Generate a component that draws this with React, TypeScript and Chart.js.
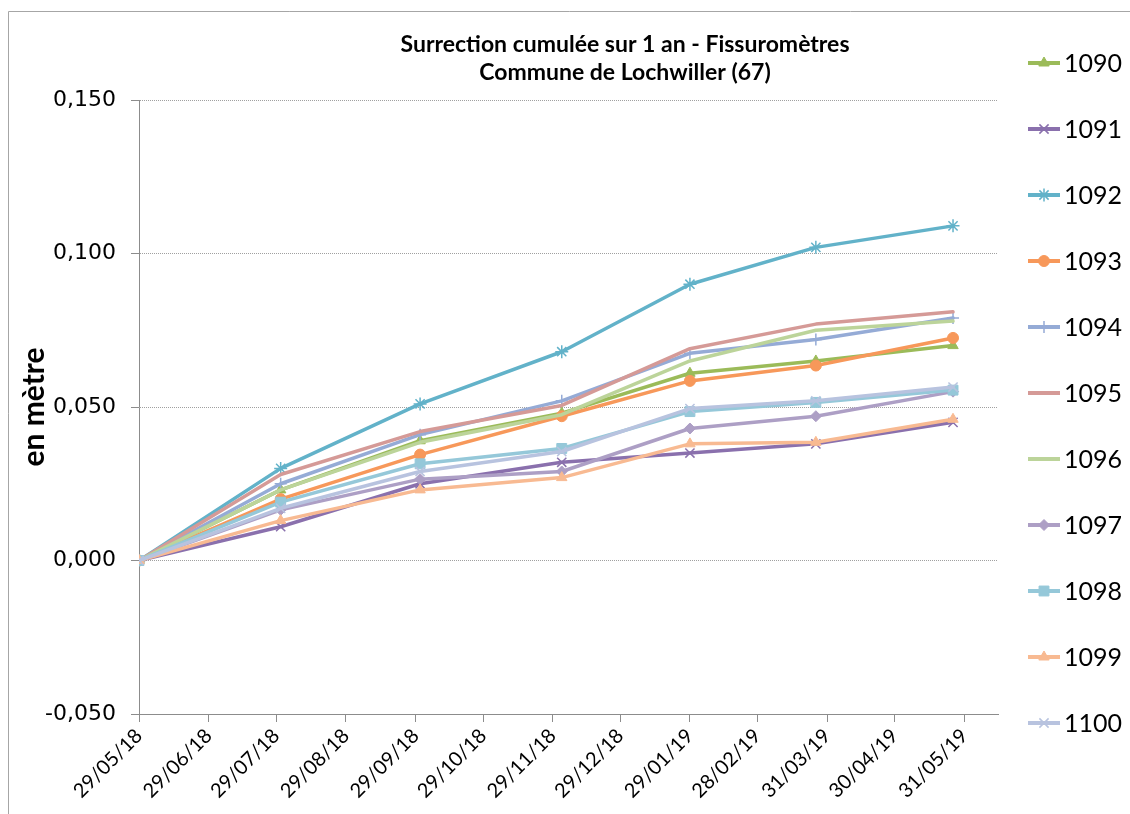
import React, { useEffect, useRef } from 'react';
import { Chart, registerables } from 'chart.js';
import { drawPoint } from 'chart.js/helpers';

Chart.register(...registerables);

// ---------- data ----------
const titleLines = ['Surrection cumulée sur 1 an - Fissuromètres', 'Commune de Lochwiller (67)'];
const yAxisTitle = 'en mètre';

const originDate = '2018-05-29';
const axisEndDate = '2019-06-15';
const measureDates = ['2018-05-29', '2018-07-31', '2018-10-01', '2018-12-03', '2019-01-29', '2019-03-26', '2019-05-26'];
const tickLabels = ['29/05/18', '29/06/18', '29/07/18', '29/08/18', '29/09/18', '29/10/18', '29/11/18', '29/12/18', '29/01/19', '28/02/19', '31/03/19', '30/04/19', '31/05/19'];

const seriesNames = ['1090', '1091', '1092', '1093', '1094', '1095', '1096', '1097', '1098', '1099', '1100'];
const s1090 = [0, 0.023, 0.039, 0.048, 0.061, 0.065, 0.070];
const s1091 = [0, 0.011, 0.025, 0.032, 0.035, 0.038, 0.045];
const s1092 = [0, 0.030, 0.051, 0.068, 0.090, 0.102, 0.109];
const s1093 = [0, 0.020, 0.0345, 0.047, 0.0585, 0.0635, 0.0725];
const s1094 = [0, 0.025, 0.041, 0.052, 0.0675, 0.072, 0.079];
const s1095 = [0, 0.028, 0.042, 0.0505, 0.069, 0.077, 0.081];
const s1096 = [0, 0.023, 0.0385, 0.0475, 0.065, 0.075, 0.078];
const s1097 = [0, 0.0165, 0.0265, 0.029, 0.043, 0.047, 0.055];
const s1098 = [0, 0.019, 0.0315, 0.0365, 0.0485, 0.0515, 0.0555];
const s1099 = [0, 0.013, 0.023, 0.027, 0.038, 0.0385, 0.046];
const s1100 = [0, 0.017, 0.029, 0.0355, 0.0495, 0.052, 0.0565];
const seriesValues = [s1090, s1091, s1092, s1093, s1094, s1095, s1096, s1097, s1098, s1099, s1100];

const seriesColors = ['#9bbb59', '#8a70ad', '#62b2c9', '#f7985a', '#95abd6', '#d59a97', '#bcd49a', '#ad9fc5', '#95c8d9', '#f8ba92', '#b8c3df'];
const pointStyles: any[] = ['triangle', 'crossRot', 'star', 'circle', 'cross', 'circle', 'circle', 'rectRot', 'rect', 'triangle', 'crossRot'];
const pointRadii = [6, 6.5, 6.5, 5.5, 6, 0, 0, 5.5, 7, 6, 6.5];

const yMin = -0.05;
const yMax = 0.15;
const yStep = 0.05;

// ---------- helpers ----------
const DAY = 86400000;
const isoToUTC = (iso: string) => {
  const [y, m, d] = iso.split('-').map(Number);
  return Date.UTC(y, m - 1, d);
};
const labelToUTC = (lab: string) => {
  const [d, m, y] = lab.split('/').map(Number);
  return Date.UTC(2000 + y, m - 1, d);
};
const origin = isoToUTC(originDate);
const dayOfIso = (iso: string) => Math.round((isoToUTC(iso) - origin) / DAY);
const tickDays = tickLabels.map((l) => Math.round((labelToUTC(l) - origin) / DAY));
const measureDays = measureDates.map(dayOfIso);

const FONT = 'Lato';

const decorPlugin = {
  id: 'decor',
  beforeDraw(chart: any) {
    const ctx = chart.ctx;
    ctx.save();
    ctx.strokeStyle = '#a6a6a6';
    ctx.lineWidth = 1;
    ctx.beginPath();
    ctx.moveTo(8.5, 1000);
    ctx.lineTo(8.5, 11.5);
    ctx.lineTo(1200, 11.5);
    ctx.stroke();
    ctx.restore();
  },
  afterDraw(chart: any) {
    const ctx = chart.ctx;
    ctx.save();
    // title
    ctx.fillStyle = '#000';
    ctx.textAlign = 'center';
    ctx.textBaseline = 'middle';
    ctx.font = `bold 23px ${FONT}`;
    ctx.fillText(titleLines[0], 625, 45);
    ctx.fillText(titleLines[1], 625, 73);
    // y axis title
    ctx.save();
    ctx.translate(34, 407);
    ctx.rotate(-Math.PI / 2);
    ctx.font = `bold 30px ${FONT}`;
    ctx.fillText(yAxisTitle, 0, 0);
    ctx.restore();
    // legend
    chart.data.datasets.forEach((ds: any, i: number) => {
      const y = 63 + 66 * i;
      ctx.strokeStyle = ds.borderColor;
      ctx.lineWidth = 4;
      ctx.beginPath();
      ctx.moveTo(1028, y);
      ctx.lineTo(1060, y);
      ctx.stroke();
      if (ds.pointRadius > 0) {
        ctx.fillStyle = ds.pointBackgroundColor;
        ctx.strokeStyle = ds.pointBorderColor;
        ctx.lineWidth = ds.pointBorderWidth;
        drawPoint(ctx, { pointStyle: ds.pointStyle, radius: ds.pointRadius, borderWidth: ds.pointBorderWidth, rotation: 0 } as any, 1044, y);
      }
      ctx.fillStyle = '#000';
      ctx.textAlign = 'left';
      ctx.textBaseline = 'middle';
      ctx.font = `25px ${FONT}`;
      ctx.fillText(ds.label, 1064, y + 1);
    });
    ctx.restore();
  },
};

export default function App() {
  const ref = useRef<HTMLCanvasElement>(null);

  useEffect(() => {
    const datasets = seriesNames.map((name, i) => {
      const stroked = ['cross', 'crossRot', 'star'].includes(pointStyles[i]);
      return {
        label: name,
        data: seriesValues[i].map((v, k) => ({ x: measureDays[k], y: v })),
        borderColor: seriesColors[i],
        backgroundColor: seriesColors[i],
        pointBackgroundColor: seriesColors[i],
        pointBorderColor: seriesColors[i],
        pointBorderWidth: stroked ? 1.5 : 1,
        pointStyle: pointStyles[i],
        pointRadius: pointRadii[i],
        borderWidth: 3.5,
        borderJoinStyle: 'round' as const,
        borderCapStyle: 'round' as const,
        tension: 0,
        fill: false,
        order: -i,
      };
    });

    const chart = new Chart(ref.current as HTMLCanvasElement, {
      type: 'line',
      data: { datasets },
      plugins: [decorPlugin],
      options: {
        animation: false,
        responsive: false,
        events: [],
        layout: { padding: { top: 100, right: 132, left: 0, bottom: 0 } },
        plugins: {
          legend: { display: false },
          title: { display: false },
          tooltip: { enabled: false },
        },
        scales: {
          x: {
            type: 'linear',
            min: 0,
            max: dayOfIso(axisEndDate),
            afterBuildTicks: (scale: any) => {
              scale.ticks = tickDays.map((value) => ({ value }));
            },
            afterFit: (scale: any) => {
              scale.height = 100;
            },
            ticks: {
              autoSkip: false,
              maxRotation: 45,
              minRotation: 45,
              padding: 2,
              color: '#000',
              font: { family: FONT, size: 20 },
              callback: (_v: any, i: number) => tickLabels[i],
            },
            grid: {
              drawOnChartArea: false,
              drawTicks: true,
              tickLength: 8,
              tickColor: '#8c8c8c',
              tickWidth: 1,
            },
            border: { display: true, color: '#8c8c8c', width: 1 },
          },
          y: {
            type: 'linear',
            min: yMin,
            max: yMax,
            afterFit: (scale: any) => {
              scale.width = 139;
            },
            ticks: {
              stepSize: yStep,
              padding: 15,
              color: '#000',
              font: { family: 'Verdana, "DejaVu Sans", sans-serif', size: 22 },
              callback: (v: any) => Number(v).toFixed(3).replace('.', ','),
            },
            grid: {
              color: '#a0a0a0',
              lineWidth: 1,
              drawTicks: true,
              tickLength: 8,
              tickColor: '#8c8c8c',
              tickWidth: 1,
              tickBorderDash: [],
            },
            border: { display: true, color: '#8c8c8c', width: 1, dash: [1, 1] },
          },
        },
      } as any,
    });
    return () => chart.destroy();
  }, []);

  return (
    <div style={{ position: 'absolute', left: 0, top: 0, width: 1130, height: 814, background: '#fff', overflow: 'hidden' }}>
      <canvas ref={ref} width={1130} height={814} style={{ display: 'block', width: 1130, height: 814 }} />
    </div>
  );
}
